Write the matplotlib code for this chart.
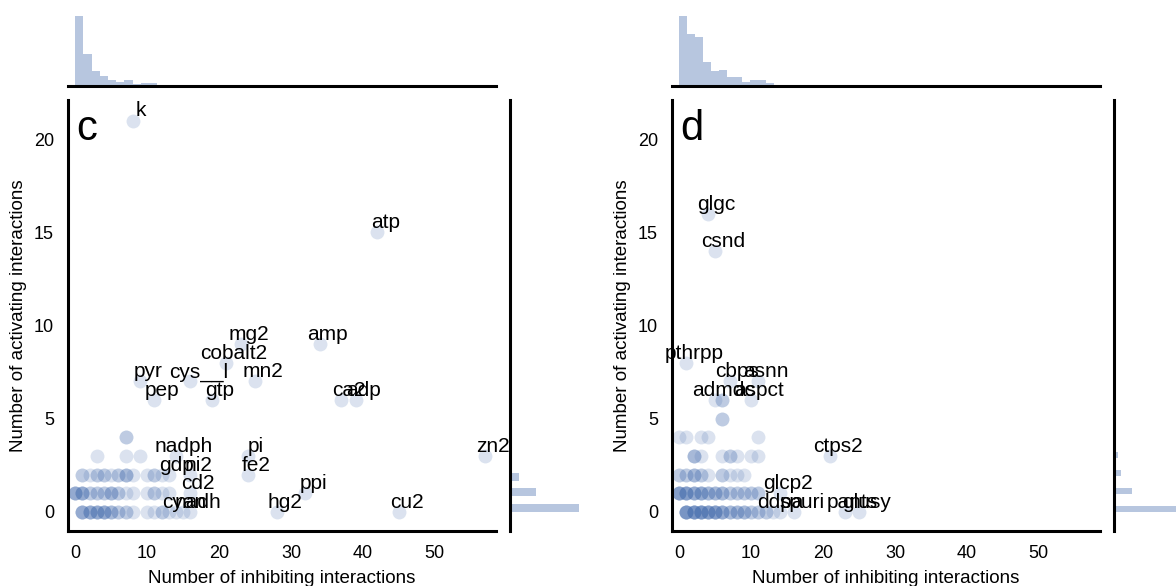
import matplotlib.pyplot as plt
import numpy as np

plt.rcParams['font.family'] = ['Liberation Sans', 'DejaVu Sans']

BLUE = '#4c72b0'

# ---- panel c: labelled metabolites ----
c_names = ['k', 'atp', 'mg2', 'amp', 'cobalt2', 'pyr', 'cys__l', 'mn2', 'pep', 'gtp',
           'ca2', 'adp', 'nadph', 'pi', 'fe2', 'gdp', 'ni2', 'cd2', 'cyan', 'nadh',
           'zn2', 'ppi', 'hg2', 'cu2']
c_lx = [8, 42, 23, 34, 21, 9, 16, 25, 11, 19, 37, 39, 14, 24, 24, 13, 16, 16, 14, 16, 57, 32, 28, 45]
c_ly = [21, 15, 9, 9, 8, 7, 7, 7, 6, 6, 6, 6, 3, 3, 2, 2, 2, 1, 0, 0, 3, 1, 0, 0]

# ---- panel c: unlabelled points (x, y, number of overlapping points) ----
c_ux = [7, 3, 7, 9,
        1, 2, 3, 4, 5, 6, 7, 8, 10, 11, 12,
        0, 1, 2, 3, 4, 5, 6, 7, 8, 10, 11, 12, 13,
        1, 2, 3, 4, 5, 6, 7, 8, 10, 11, 12, 13, 15]
c_uy = [4, 3, 3, 3,
        2, 2, 2, 2, 2, 2, 2, 2, 2, 2, 2,
        1, 1, 1, 1, 1, 1, 1, 1, 1, 1, 1, 1, 1,
        0, 0, 0, 0, 0, 0, 0, 0, 0, 0, 0, 0, 0]
c_un = [2, 1, 1, 1,
        2, 1, 2, 2, 1, 2, 3, 1, 1, 2, 1,
        4, 4, 2, 2, 2, 3, 2, 1, 1, 1, 2, 1, 1,
        4, 4, 4, 4, 3, 2, 2, 1, 1, 1, 2, 1, 1]

# ---- panel d: labelled reactions ----
d_names = ['glgc', 'csnd', 'pthrpp', 'cbps', 'asnn', 'admdc', 'aspct', 'ctps2', 'glcp2',
           'ddpa', 'spuri', 'pants', 'glusy']
d_lx = [4, 5, 1, 7, 11, 5, 10, 21, 14, 13, 16, 23, 25]
d_ly = [16, 14, 8, 7, 7, 6, 6, 3, 1, 0, 0, 0, 0]

d_ux = [6, 6,
        0, 1, 3, 4, 11,
        2, 3, 6, 7, 8, 10, 11,
        0, 1, 2, 3, 4, 6, 7, 8, 9,
        0, 1, 2, 3, 4, 5, 6, 7, 8, 9, 10, 11,
        1, 2, 3, 4, 5, 6, 7, 8, 9, 10, 11, 12, 14]
d_uy = [6, 5,
        4, 4, 4, 4, 4,
        3, 3, 3, 3, 3, 3, 3,
        2, 2, 2, 2, 2, 2, 2, 2, 2,
        1, 1, 1, 1, 1, 1, 1, 1, 1, 1, 1, 1,
        0, 0, 0, 0, 0, 0, 0, 0, 0, 0, 0, 0, 0]
d_un = [2, 2,
        1, 1, 1, 1, 1,
        3, 1, 1, 2, 1, 1, 1,
        2, 2, 3, 2, 1, 2, 1, 1, 1,
        5, 5, 4, 4, 3, 3, 3, 2, 2, 2, 2, 2,
        6, 6, 6, 5, 5, 4, 3, 3, 3, 2, 2, 2, 1]

# ---- marginal histogram heights ----
c_top = [70, 32, 15, 10, 6, 4, 6, 2, 3, 3, 1, 0, 0, 0, 0.7, 0, 0, 0, 0, 0, 0, 0.5]
c_top_edges = np.linspace(0, 57, 51)
c_right = [69, 0, 25.7, 0, 9, 0, 0, 0.8]
c_right_edges = np.linspace(0, 21, 51)

d_top = [70, 52, 49, 24, 15, 16, 9, 9, 4, 6, 6, 3]
d_top_edges = np.arange(0, 14, 1.1)
d_right = [72, 0, 0, 18, 0, 0, 7, 0, 0, 4, 0, 0, 2]
d_right_edges = np.linspace(0, 16, 51)


def draw_panel(left, letter, names, lx, ly, ux, uy, un, top, top_edges, right, right_edges):
    W, H = 1176.0, 586.0
    ax = fig.add_axes([left / W, 55 / H, 428 / W, 431 / H])
    ax_top = fig.add_axes([left / W, 500 / H, 428 / W, 75 / H])
    ax_right = fig.add_axes([(left + 442) / W, 55 / H, 75 / W, 431 / H])

    px = np.concatenate([lx, np.repeat(ux, un)])
    py = np.concatenate([ly, np.repeat(uy, un)])
    ax.scatter(px, py, s=100, color=BLUE, alpha=0.2, linewidths=0)

    for name, x, y in zip(names, lx, ly):
        ax.text(x + 1.1, y + 0.22, name, ha='center', va='baseline', fontsize=15,
                clip_on=False)

    ax.text(0.02, 0.907, letter, transform=ax.transAxes, fontsize=30, va='baseline')

    ax.set_xlim(-1, 58.5)
    ax.set_ylim(-1.02, 22.1)
    ax.set_xticks([0, 10, 20, 30, 40, 50])
    ax.set_yticks([0, 5, 10, 15, 20])
    ax.tick_params(length=0, pad=10, labelsize=13)
    ax.set_xlabel('Number of inhibiting interactions', fontsize=13.5, labelpad=6)
    ax.set_ylabel('Number of activating interactions', fontsize=13.5, labelpad=5)
    for side in ['top', 'right']:
        ax.spines[side].set_visible(False)
    for side in ['left', 'bottom']:
        ax.spines[side].set_linewidth(2.2)

    ax_top.stairs(top, top_edges[:len(top) + 1], fill=True, color=BLUE, alpha=0.4)
    ax_top.set_xlim(ax.get_xlim())
    ax_top.set_ylim(0, 75)
    ax_top.set_xticks([])
    ax_top.set_yticks([])
    for side in ['top', 'right', 'left']:
        ax_top.spines[side].set_visible(False)
    ax_top.spines['bottom'].set_linewidth(2.2)

    ax_right.stairs(right, right_edges[:len(right) + 1], fill=True, color=BLUE,
                    alpha=0.4, orientation='horizontal')
    ax_right.set_ylim(ax.get_ylim())
    ax_right.set_xlim(0, 75)
    ax_right.set_xticks([])
    ax_right.set_yticks([])
    for side in ['top', 'right', 'bottom']:
        ax_right.spines[side].set_visible(False)
    ax_right.spines['left'].set_linewidth(2.2)


fig = plt.figure(figsize=(11.76, 5.86), dpi=100)

draw_panel(68, 'c', c_names, c_lx, c_ly, c_ux, c_uy, c_un,
           c_top, c_top_edges, c_right, c_right_edges)
draw_panel(672, 'd', d_names, d_lx, d_ly, d_ux, d_uy, d_un,
           d_top, d_top_edges, d_right, d_right_edges)

fig.savefig('out.png', dpi=100)
